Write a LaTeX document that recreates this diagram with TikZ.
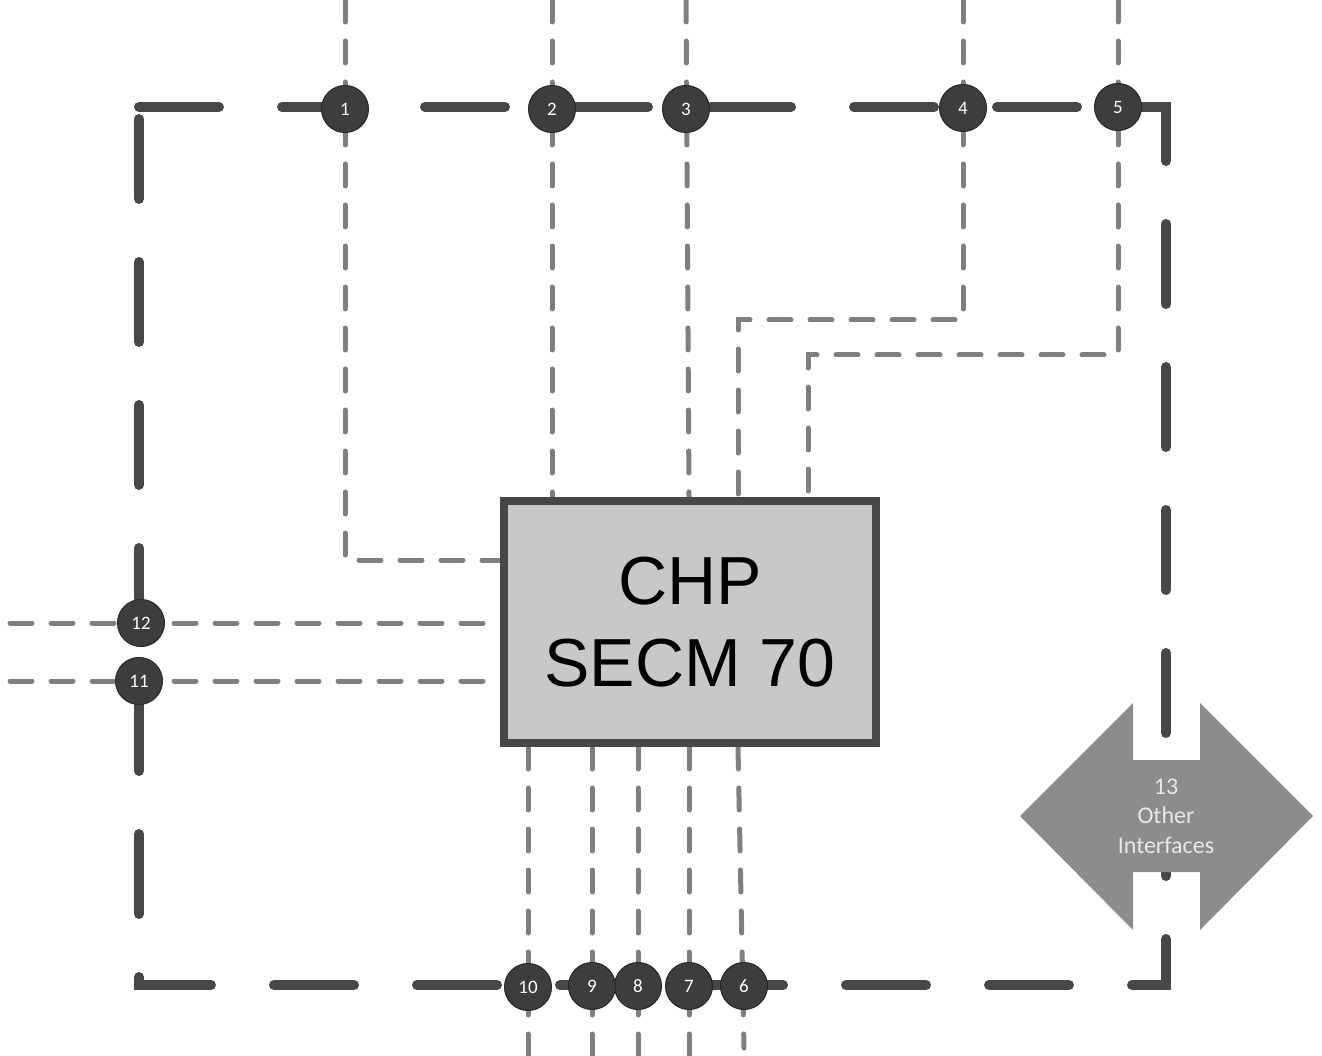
\documentclass[tikz,border=0pt]{standalone}
\usepackage{fontspec}
\setmainfont{Liberation Sans}
\newfontfamily\calibri{Carlito}
\usetikzlibrary{
  positioning,
  backgrounds
}
\definecolor{frameline}{HTML}{474747}
\definecolor{signal}{HTML}{7F7F7F}
\definecolor{portfill}{HTML}{3D3D3D}
\definecolor{unitfill}{HTML}{C8C8C8}
\definecolor{ifacefill}{HTML}{8C8C8C}
\definecolor{ifacetext}{HTML}{E8E8E8}

\begin{document}
\begin{tikzpicture}[
  x=1pt, y=-1pt,
  unit/.style={draw=frameline, line width=8pt, fill=unitfill, minimum width=372pt,
               minimum height=242pt, align=center, font=\fontsize{68}{82}\selectfont},
  port/.style={circle, draw=black!85, line width=1pt, fill=portfill, minimum size=47pt,
               inner sep=0pt, text=white, font=\calibri\fontsize{19}{22}\selectfont},
  sig/.style={signal, line width=5pt, line cap=round, dash pattern=on 22pt off 19pt},
  frame/.style={frameline, line width=10pt, line cap=round, dash pattern=on 80pt off 63pt},
  ifacetxt/.style={align=center, text=ifacetext, inner sep=0pt,
                   font=\calibri\fontsize{24}{29.5}\selectfont}
]
  \useasboundingbox (0,0) rectangle (1322,1056);

  \coordinate (top) at (0,0);
  \coordinate (base) at (0,1056);
  \coordinate (lft) at (10,0);
  \coordinate (b1) at (345,560);
  \coordinate (b4) at (738,320);
  \coordinate (b5) at (808,355);
  \coordinate (e6) at (744,1048);

  \node[unit] (chp) at (690,622) {CHP\\SECM 70};

  \node[port] (i1) at (345,109) {1};
  \node[port] (i2) at (552,109) {2};
  \node[port] (i3) at (686,109) {3};
  \node[port] (i4) at (963,108) {4};
  \node[port] (i5) at (1118,107) {5};
  \node[port] (i6) at (744,986) {6};
  \node[port] (i7) at (689,986) {7};
  \node[port] (i8) at (638,986) {8};
  \node[port] (i9) at (592,986) {9};
  \node[port] (i10) at (528,987) {10};
  \node[port] (i11) at (139,681) {11};
  \node[port] (i12) at (141,623) {12};

  \node[ifacetxt] (oi) at (1166,816) {13\\Other\\Interfaces};

  \begin{scope}[on background layer]
    \draw[frame] (139,107) -- (1166,107) -- (1166,985) -- (139,985) -- cycle;

    \draw[sig] (i1 |- top) -- (b1) -- (b1 -| chp.west);
    \draw[sig] (i2 |- top) -- (i2 |- chp.north);
    \draw[sig] (i3 |- top) -- ([xshift=3pt]i3 |- chp.north);
    \draw[sig] (i4 |- top) |- (b4) -- (b4 |- chp.north);
    \draw[sig] (i5 |- top) |- (b5) -- (b5 |- chp.north);
    \draw[sig] (i12 -| lft) -- (i12 -| chp.west);
    \draw[sig] (i11 -| lft) -- (i11 -| chp.west);
    \draw[sig] (i10 |- chp.south) -- (i10 |- base);
    \draw[sig] (i9 |- chp.south) -- (i9 |- base);
    \draw[sig] (i8 |- chp.south) -- (i8 |- base);
    \draw[sig] (i7 |- chp.south) -- (i7 |- base);
    \draw[sig] ([xshift=48pt]chp.south) -- (e6);

    \fill[ifacefill, shift={(oi.center)}]
      (-146,0) -- (-33,-113) -- (-33,-56) -- (34,-56) -- (34,-113) -- (147,0)
      -- (34,114) -- (34,56) -- (-33,56) -- (-33,114) -- cycle;
  \end{scope}
\end{tikzpicture}
\end{document}
